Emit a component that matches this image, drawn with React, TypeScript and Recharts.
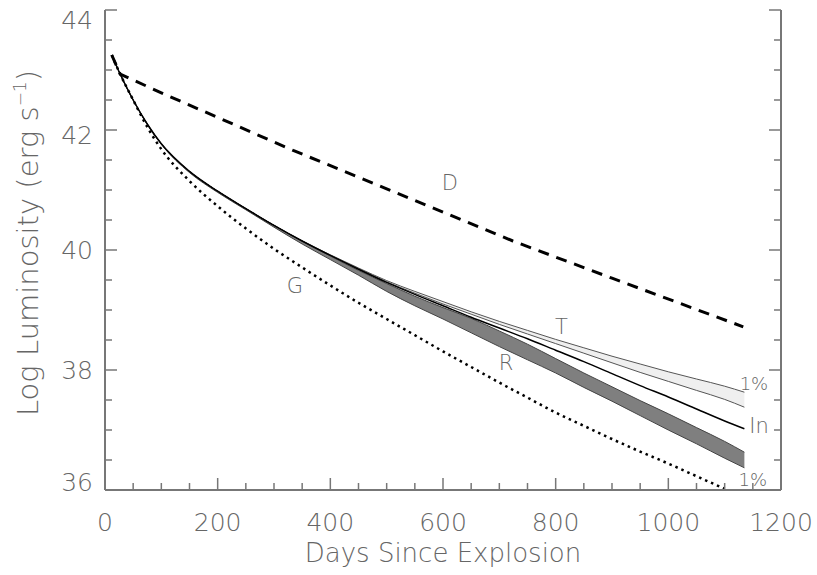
import React from 'react';
import {
  ComposedChart,
  Line,
  Area,
  XAxis,
  YAxis,
  Label,
  ReferenceDot,
} from 'recharts';

// sample days shared by the model curves
const days = [12, 25, 50, 75, 100, 150, 200, 250, 300, 350, 400, 450, 500, 550, 600, 650, 700, 750, 800, 850, 900, 950, 1000, 1050, 1100, 1135];

// "In" curve (solid black)
const inLum = [43.25, 42.97, 42.5, 42.1, 41.77, 41.31, 40.98, 40.69, 40.41, 40.15, 39.91, 39.68, 39.46, 39.26, 39.07, 38.88, 38.7, 38.52, 38.33, 38.14, 37.94, 37.74, 37.55, 37.35, 37.15, 37.02];

// "G" curve (dotted), leaves the frame at day 1100
const gLum = [43.25, 42.97, 42.5, 42.05, 41.68, 41.15, 40.73, 40.36, 40.02, 39.71, 39.41, 39.12, 38.85, 38.58, 38.31, 38.05, 37.79, 37.54, 37.29, 37.07, 36.85, 36.64, 36.44, 36.23, 36.02, null];

// "T" band (light), upper and lower 1% edges
const tHigh = [43.25, 42.97, 42.5, 42.1, 41.77, 41.31, 40.98, 40.69, 40.41, 40.15, 39.92, 39.7, 39.49, 39.31, 39.14, 38.97, 38.81, 38.66, 38.51, 38.37, 38.23, 38.1, 37.97, 37.85, 37.73, 37.63];
const tLow = [43.25, 42.97, 42.5, 42.1, 41.77, 41.31, 40.98, 40.69, 40.41, 40.15, 39.91, 39.69, 39.47, 39.28, 39.1, 38.93, 38.76, 38.6, 38.44, 38.28, 38.12, 37.96, 37.81, 37.66, 37.51, 37.38];

// "R" band (dark)
const rHigh = [43.25, 42.97, 42.5, 42.1, 41.77, 41.31, 40.98, 40.69, 40.41, 40.15, 39.9, 39.66, 39.44, 39.23, 39.04, 38.86, 38.65, 38.43, 38.19, 37.95, 37.72, 37.49, 37.27, 37.04, 36.81, 36.63];
const rLow = [43.25, 42.97, 42.5, 42.09, 41.76, 41.29, 40.96, 40.67, 40.38, 40.1, 39.84, 39.58, 39.31, 39.07, 38.85, 38.62, 38.39, 38.17, 37.95, 37.71, 37.48, 37.24, 37.0, 36.77, 36.53, 36.37];

// "D" curve (dashed)
const dDays = [12, 27, 100, 200, 334, 500, 724, 900, 1133];
const dLum = [43.25, 42.93, 42.62, 42.21, 41.66, 41.02, 40.15, 39.53, 38.72];

const xTicks = [0, 50, 100, 150, 200, 250, 300, 350, 400, 450, 500, 550, 600, 650, 700, 750, 800, 850, 900, 950, 1000, 1050, 1100, 1150, 1200];
const yTicks = [36, 36.5, 37, 37.5, 38, 38.5, 39, 39.5, 40, 40.5, 41, 41.5, 42, 42.5, 43, 43.5, 44];

const curveLabels = [
  { x: 612, y: 41.12, text: 'D', size: 21 },
  { x: 337, y: 39.4, text: 'G', size: 21 },
  { x: 810, y: 38.72, text: 'T', size: 21 },
  { x: 712, y: 38.12, text: 'R', size: 21 },
  { x: 1152, y: 37.77, text: '1%', size: 18 },
  { x: 1161, y: 37.08, text: 'In', size: 21 },
  { x: 1150, y: 36.18, text: '1%', size: 18 },
];

const rows = days.map((day, i) => ({
  day,
  inLum: inLum[i],
  gLum: gLum[i],
  tBand: [tLow[i], tHigh[i]],
  rBand: [rLow[i], rHigh[i]],
}));
const dRows = dDays.map((day, i) => ({ day, dLum: dLum[i] }));

const FONT = '"DejaVu Sans", sans-serif';
const TEXT = '#666';
const AXIS = '#777';

const BottomTick = ({ x, y, payload }: any) => {
  const major = payload.value % 200 === 0;
  return (
    <g>
      <line x1={x} x2={x} y1={y} y2={y - (major ? 12 : 7)} stroke={AXIS} strokeWidth={1.5} />
      {major && (
        <text x={x} y={y + 41} textAnchor="middle" fontSize={25} fontFamily={FONT} fontWeight={200} fill={TEXT}>
          {payload.value}
        </text>
      )}
    </g>
  );
};

const TopTick = ({ x, y, payload }: any) => {
  const major = payload.value % 200 === 0;
  return <line x1={x} x2={x} y1={y} y2={y + (major ? 12 : 7)} stroke={AXIS} strokeWidth={1.5} />;
};

// tick labels at the frame corners sit inside the box edges
const yLabelShift = (v: number) => (v === 44 ? 10 : v === 42 ? 5 : v === 36 ? -8 : 0);

const LeftTick = ({ x, y, payload }: any) => {
  const major = payload.value % 2 === 0;
  return (
    <g>
      <line x1={x} x2={x + (major ? 12 : 7)} y1={y} y2={y} stroke={AXIS} strokeWidth={1.5} />
      {major && (
        <text x={x - 12} y={y + 9 + yLabelShift(payload.value)} textAnchor="end" fontSize={25} fontFamily={FONT} fontWeight={200} fill={TEXT}>
          {payload.value}
        </text>
      )}
    </g>
  );
};

const RightTick = ({ x, y, payload }: any) => {
  const major = payload.value % 2 === 0;
  return <line x1={x} x2={x - (major ? 12 : 7)} y1={y} y2={y} stroke={AXIS} strokeWidth={1.5} />;
};

const XTitle = ({ viewBox }: any) => (
  <text x={viewBox.x + viewBox.width / 2} y={562} textAnchor="middle" fontSize={26} fontFamily={FONT} fontWeight={200} fill={TEXT}>
    Days Since Explosion
  </text>
);

const YTitle = () => (
  <text x={38} y={243} transform="rotate(-90 38 243)" textAnchor="middle" fontSize={29} fontFamily={FONT} fontWeight={200} fill={TEXT}>
    Log Luminosity (erg s
    <tspan dy={-12} fontSize={17}>−1</tspan>
    <tspan dy={12}>)</tspan>
  </text>
);

export default function App() {
  return (
    <div style={{ position: 'absolute', left: 0, top: 0, background: '#fff' }}>
      <ComposedChart width={817} height={575} data={rows} margin={{ top: 10, right: 0, bottom: 0, left: 0 }}>
        <XAxis
          xAxisId="bottom"
          dataKey="day"
          type="number"
          domain={[0, 1200]}
          ticks={xTicks}
          interval={0}
          allowDataOverflow
          height={85}
          tickSize={0}
          tickMargin={0}
          tickLine={false}
          axisLine={{ stroke: AXIS, strokeWidth: 2 }}
          tick={(p: any) => <BottomTick {...p} />}
        >
          <Label content={XTitle} />
        </XAxis>
        <XAxis
          xAxisId="top"
          orientation="top"
          dataKey="day"
          type="number"
          domain={[0, 1200]}
          ticks={xTicks}
          interval={0}
          allowDataOverflow
          height={0}
          tickSize={0}
          tickMargin={0}
          tickLine={false}
          axisLine={{ stroke: AXIS, strokeWidth: 2 }}
          tick={(p: any) => <TopTick {...p} />}
        />
        <YAxis
          yAxisId="left"
          type="number"
          domain={[36, 44]}
          ticks={yTicks}
          interval={0}
          allowDataOverflow
          width={105}
          tickSize={0}
          tickMargin={0}
          tickLine={false}
          axisLine={{ stroke: AXIS, strokeWidth: 2 }}
          tick={(p: any) => <LeftTick {...p} />}
        >
          <Label content={YTitle} />
        </YAxis>
        <YAxis
          yAxisId="right"
          orientation="right"
          type="number"
          domain={[36, 44]}
          ticks={yTicks}
          interval={0}
          allowDataOverflow
          width={36}
          tickSize={0}
          tickMargin={0}
          tickLine={false}
          axisLine={{ stroke: AXIS, strokeWidth: 2 }}
          tick={(p: any) => <RightTick {...p} />}
        />

        <Area
          xAxisId="bottom"
          yAxisId="left"
          dataKey="rBand"
          type="monotone"
          fill="#7f7f7f"
          fillOpacity={1}
          stroke="#444"
          strokeWidth={1}
          isAnimationActive={false}
        />
        <Area
          xAxisId="bottom"
          yAxisId="left"
          dataKey="tBand"
          type="monotone"
          fill="#efefef"
          fillOpacity={1}
          stroke="#555"
          strokeWidth={1}
          isAnimationActive={false}
        />
        <Line
          xAxisId="bottom"
          yAxisId="left"
          dataKey="inLum"
          type="monotone"
          stroke="#000"
          strokeWidth={1.5}
          dot={false}
          isAnimationActive={false}
        />
        <Line
          xAxisId="bottom"
          yAxisId="left"
          dataKey="gLum"
          type="monotone"
          stroke="#000"
          strokeWidth={2.5}
          strokeDasharray="2.5 4"
          dot={false}
          isAnimationActive={false}
        />
        <Line
          xAxisId="bottom"
          yAxisId="left"
          data={dRows}
          dataKey="dLum"
          type="linear"
          stroke="#000"
          strokeWidth={3}
          strokeDasharray="11 8"
          dot={false}
          isAnimationActive={false}
        />

        {curveLabels.map((l, i) => (
          <ReferenceDot
            key={i}
            xAxisId="bottom"
            yAxisId="left"
            x={l.x}
            y={l.y}
            r={0}
            fill="none"
            stroke="none"
            label={{ value: l.text, position: 'center', fontSize: l.size, fontFamily: FONT, fontWeight: 200, fill: TEXT }}
          />
        ))}
      </ComposedChart>
    </div>
  );
}
